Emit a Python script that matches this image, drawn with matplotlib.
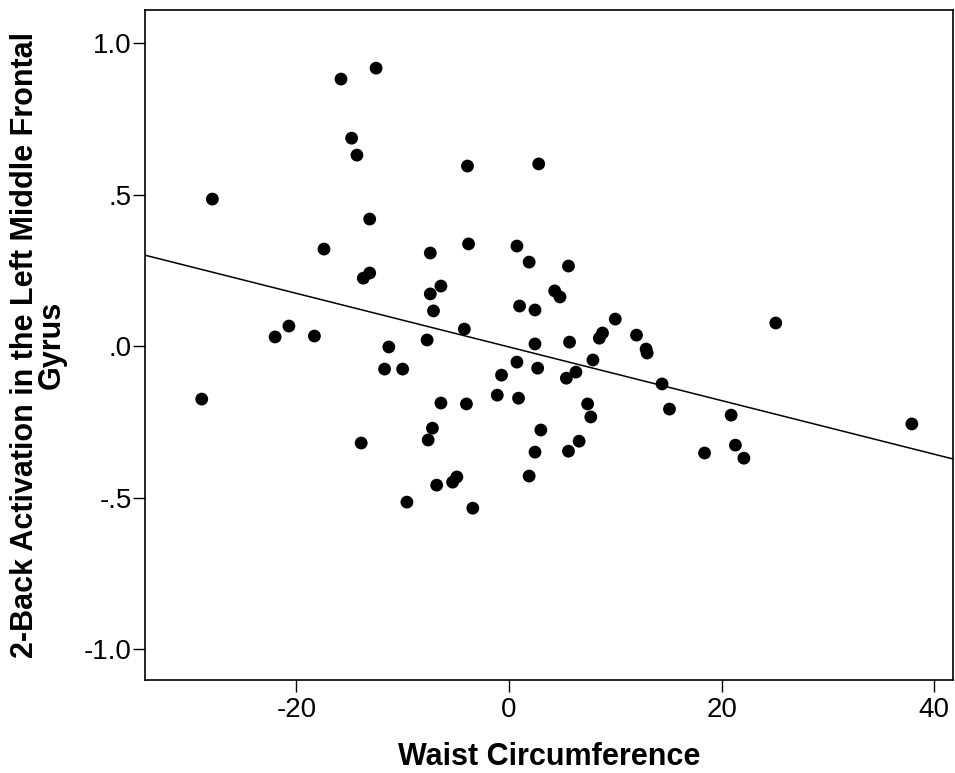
import numpy as np
import matplotlib
matplotlib.use('Agg')
import matplotlib.pyplot as plt

# waist circumference (centred) and 2-back activation
waist = [-28.9, -27.9, -22.0, -20.7, -18.3, -17.4, -15.8, -14.8, -14.3, -13.1,
         -12.5, -13.7, -13.1, -13.9, -11.3, -11.7, -10.0, -9.6, -7.7, -7.6,
         -7.4, -7.4, -7.2, -7.1, -6.8, -6.4, -6.4, -5.3, -4.9, -4.2,
         -4.0, -3.9, -3.8, -3.4, -1.1, -0.7, 0.75, 0.75, 0.9, 1.0,
         1.9, 1.9, 2.45, 2.45, 2.45, 2.7, 2.8, 3.0, 4.3, 4.8,
         5.4, 5.6, 5.6, 5.7, 6.3, 6.6, 7.4, 7.7, 7.9, 8.5,
         8.8, 10.0, 12.0, 12.9, 13.0, 14.4, 15.1, 18.4, 20.9, 21.3,
         22.1, 25.1, 37.9]
activation = [-0.175, 0.485, 0.030, 0.066, 0.033, 0.320, 0.881, 0.686, 0.630, 0.419,
              0.917, 0.224, 0.241, -0.320, -0.003, -0.076, -0.076, -0.515, 0.020, -0.310,
              0.307, 0.172, -0.271, 0.116, -0.459, 0.198, -0.188, -0.449, -0.432, 0.056,
              -0.191, 0.594, 0.337, -0.535, -0.162, -0.096, 0.330, -0.053, -0.172, 0.132,
              0.277, -0.429, 0.119, 0.007, -0.350, -0.073, 0.601, -0.277, 0.182, 0.162,
              -0.106, 0.264, -0.347, 0.013, -0.086, -0.314, -0.191, -0.234, -0.046, 0.026,
              0.043, 0.089, 0.036, -0.010, -0.023, -0.125, -0.208, -0.353, -0.228, -0.327,
              -0.370, 0.076, -0.257]

x_ticks = [-20, 0, 20, 40]
y_ticks = [1.0, 0.5, 0.0, -0.5, -1.0]
y_tick_labels = ['1.0', '.5', '.0', '-.5', '-1.0']

plt.rcParams['font.family'] = ['Liberation Sans', 'DejaVu Sans']

fig = plt.figure(figsize=(9.55, 7.73), dpi=100)
ax = fig.add_axes([0.1518, 0.1203, 0.8461, 0.8668])

ax.scatter(waist, activation, s=85, color='black', edgecolors='none', zorder=3)

# linear fit line across the whole axis
xlim = (-34.24, 41.77)
slope, intercept = np.polyfit(waist, activation, 1)
xs = np.array(xlim)
ax.plot(xs, slope * xs + intercept, color='black', linewidth=1.1)

ax.set_xlim(xlim)
ax.set_ylim(-1.102, 1.109)
ax.set_xticks(x_ticks)
ax.set_xticklabels([str(t) for t in x_ticks])
ax.set_yticks(y_ticks)
ax.set_yticklabels(y_tick_labels)
ax.tick_params(direction='out', length=8.5, width=1.0, labelsize=20, colors='black')
ax.tick_params(axis='y', pad=1)

for sp in ax.spines.values():
    sp.set_linewidth(1.2)

ax.set_xlabel('Waist Circumference', fontsize=22, fontweight='bold', labelpad=14)
ax.set_ylabel('2-Back Activation in the Left Middle Frontal\nGyrus',
              fontsize=22, fontweight='bold', labelpad=12, linespacing=0.9)

fig.savefig('out.png', dpi=100)
